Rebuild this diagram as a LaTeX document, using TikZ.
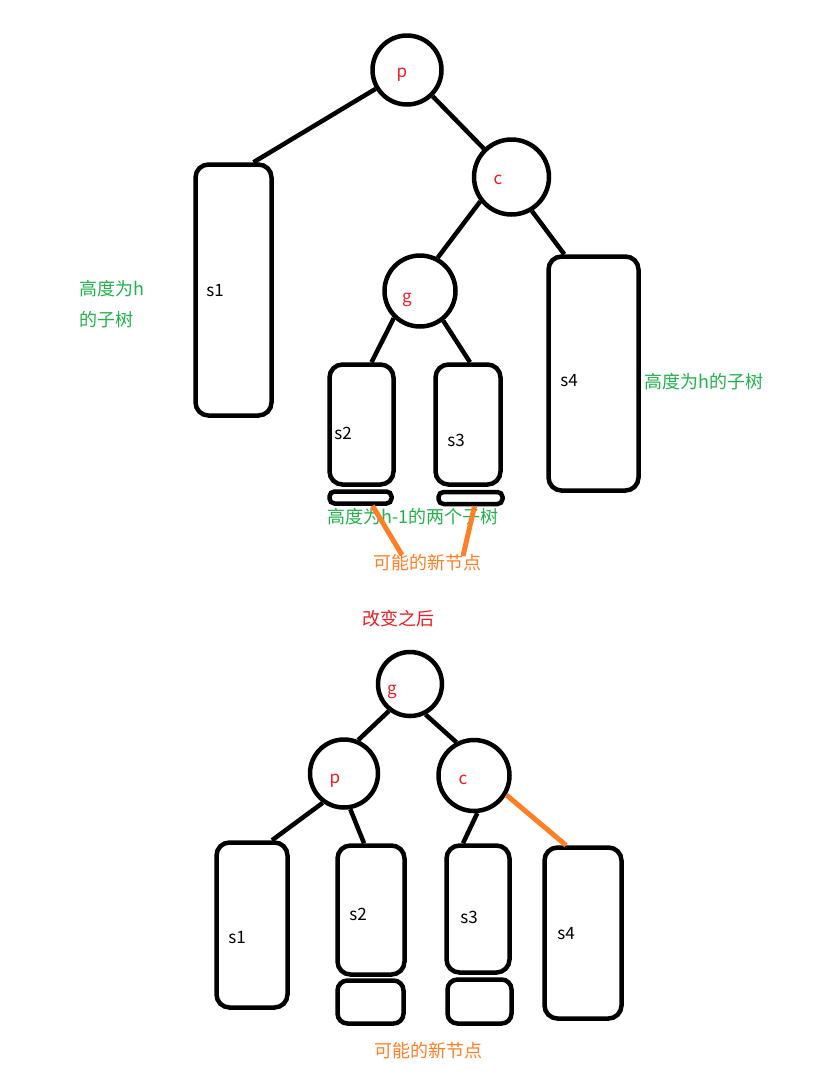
\documentclass[tikz,border=0pt]{standalone}
\usepackage{fontspec}
\setmainfont{Noto Sans CJK SC}
\usetikzlibrary{calc}
\definecolor{paintred}{RGB}{237,28,36}
\definecolor{paintgreen}{RGB}{34,177,76}
\definecolor{paintorange}{RGB}{255,127,39}

\begin{document}
\begin{tikzpicture}[x=1pt,y=-1pt,
  knot/.style={circle,draw,line width=4.5pt,inner sep=0pt},
  subtree/.style={draw,line width=4.5pt,rounded corners=13pt,inner sep=0pt},
  keylbl/.style={text=paintred,font=\fontsize{17}{20}\selectfont},
  treelbl/.style={font=\fontsize{17}{20}\selectfont},
  note/.style={text=paintgreen,font=\fontsize{18}{21}\selectfont},
  hint/.style={text=paintorange,font=\fontsize{18}{21}\selectfont},
  link/.style={line width=4.5pt},
  newlink/.style={line width=5pt,paintorange}]
\useasboundingbox (0,0) rectangle (817,1085);

% before
\node[knot,minimum size=69pt] (p) at (407,70) {};
\node[knot,minimum size=75pt] (c) at (511.5,177) {};
\node[knot,minimum size=71pt] (g) at (420,291) {};
\node[subtree,minimum width=76pt,minimum height=251pt] (s1) at (233.5,290) {};
\node[subtree,minimum width=90pt,minimum height=234pt] (s4) at (593.5,373.5) {};
\node[subtree,minimum width=64pt,minimum height=120pt] (s2) at (361.5,424.5) {};
\node[subtree,rounded corners=5pt,minimum width=62pt,minimum height=12pt] (s2n) at (360.5,497.5) {};
\node[subtree,minimum width=65pt,minimum height=120pt] (s3) at (468,424.5) {};
\node[subtree,rounded corners=5pt,minimum width=64pt,minimum height=12pt] (s3n) at (470.5,498) {};

\node[keylbl] (pl) at (402,75) {p};
\node[keylbl] (cl) at (498,180) {c};
\node[keylbl] (gl) at (407,300) {g};
\node[treelbl] (s1l) at (215,291) {s1};
\node[treelbl] (s2l) at (343,433) {s2};
\node[treelbl] (s3l) at (456,440) {s3};
\node[treelbl] (s4l) at (569,381) {s4};

\draw[link] (p) -- ($(s1.north)+(20,0)$);
\draw[link] (p) -- (c);
\draw[link] (c.218) -- (g.62);
\draw[link] (c.301) -- ($(s4.north west)+(18,0)$);
\draw[link] (g.226) -- ($(s2.north)+(10,0)$);
\draw[link] (g.308) -- ($(s3.north)+(2,0)$);

\node[note,anchor=west] (h1) at (76,289) {高度为h};
\node[note,anchor=west] (h2) at (76,320) {的子树};
\node[note,anchor=west] (h3) at (641,382) {高度为h的子树};
\node[note] (h4) at (413,517) {高度为h-1的两个子树};
\node[hint] (new1) at (427,563) {可能的新节点};
\coordinate (n1) at (402,555);
\coordinate (n2) at (463,556);
\draw[newlink] ($(s2n.south)+(12,0)$) -- (n1);
\draw[newlink] ($(s3n.south)+(4,0)$) -- (n2);

\node[keylbl,font=\fontsize{18}{21}\selectfont] (after) at (398,619) {改变之后};

% after
\node[knot,minimum size=64pt] (g2) at (410,684) {};
\node[knot,minimum size=68pt] (p2) at (344,773.5) {};
\node[knot,minimum size=71pt] (c2) at (474,775.5) {};
\node[subtree,minimum width=71pt,minimum height=165pt] (t1) at (252,925) {};
\node[subtree,minimum width=67pt,minimum height=129pt] (t2) at (371,910) {};
\node[subtree,rounded corners=10pt,minimum width=66pt,minimum height=43pt] (t2n) at (370.5,1002) {};
\node[subtree,minimum width=63pt,minimum height=127pt] (t3) at (478,909) {};
\node[subtree,rounded corners=10pt,minimum width=64pt,minimum height=44pt] (t3n) at (479.5,1001.5) {};
\node[subtree,minimum width=77pt,minimum height=171pt] (t4) at (583,933) {};

\node[keylbl] (gl2) at (392,692) {g};
\node[keylbl] (pl2) at (335,781) {p};
\node[keylbl] (cl2) at (463,780) {c};
\node[treelbl] (t1l) at (237,938) {s1};
\node[treelbl] (t2l) at (358,914) {s2};
\node[treelbl] (t3l) at (469,917) {s3};
\node[treelbl] (t4l) at (566,934) {s4};

\draw[link] (g2.232) -- (p2.67);
\draw[link] (g2.297) -- (c2.118);
\draw[link] (p2.234) -- ($(t1.north)+(20,0)$);
\draw[link] (p2.280) -- ($(t2.north)+(-7,0)$);
\draw[link] (c2.275) -- ($(t3.north)+(-15,0)$);
\draw[newlink] (c2.329) -- ($(t4.north)+(-17,0)$);

\node[hint] (new2) at (428,1051) {可能的新节点};
\end{tikzpicture}
\end{document}
